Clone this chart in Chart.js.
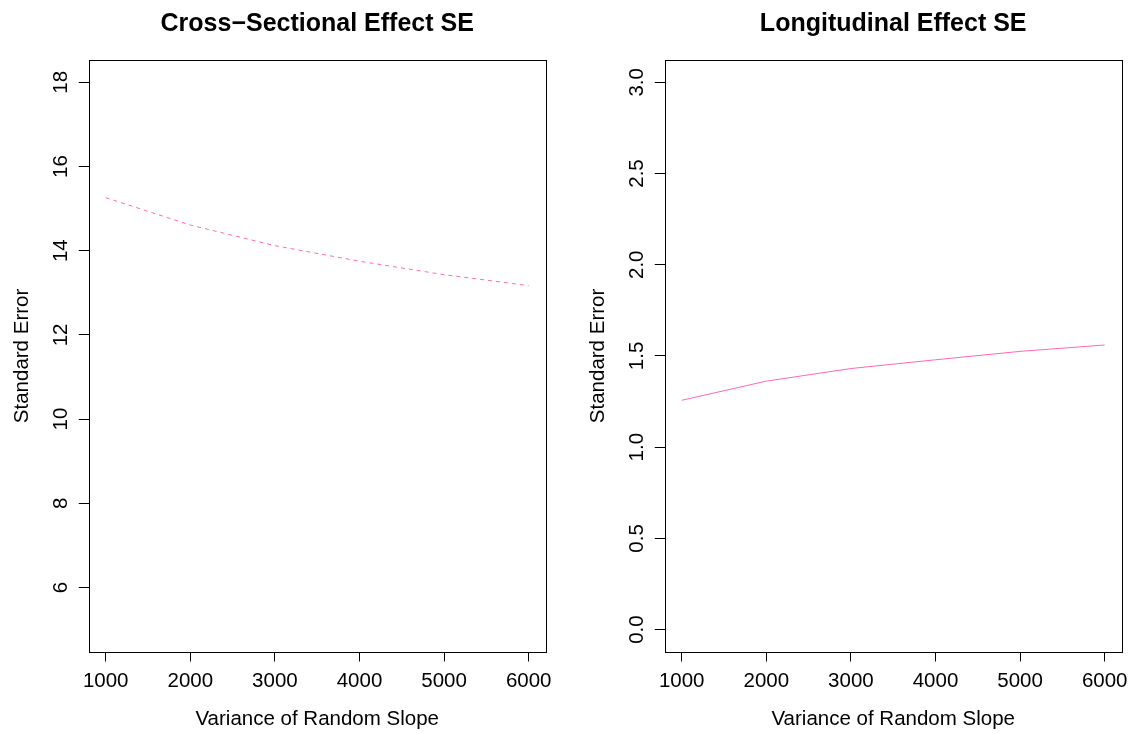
<!DOCTYPE html>
<html>
<head>
<meta charset="utf-8">
<script src="https://cdn.jsdelivr.net/npm/chart.js@4.4.1/dist/chart.umd.min.js"></script>
<style>
  html, body { margin: 0; padding: 0; background: #fff; }
  #wrap { position: relative; width: 1137px; height: 734px; background: #fff; }
  canvas { position: absolute; top: 0; }
  #left { left: 0; }
  #right { left: 568px; }
</style>
</head>
<body>
<div id="wrap">
  <canvas id="left" width="568" height="734"></canvas>
  <canvas id="right" width="569" height="734"></canvas>
</div>
<script>
// Standard errors by variance of the random slope
const slopeVariance = [1000, 2000, 3000, 4000, 5000, 6000];
const crossSectionalSE = [15.26, 14.61, 14.12, 13.75, 13.43, 13.17];
const longitudinalSE = [1.257, 1.362, 1.431, 1.479, 1.525, 1.560];

// Axis ticks and labels
const xTicks = [1000, 2000, 3000, 4000, 5000, 6000];
const crossYTicks = [6, 8, 10, 12, 14, 16, 18];
const crossYLabels = ['6', '8', '10', '12', '14', '16', '18'];
const longYTicks = [0, 0.5, 1, 1.5, 2, 2.5, 3];
const longYLabels = ['0.0', '0.5', '1.0', '1.5', '2.0', '2.5', '3.0'];
const crossYLimits = [5, 18];
const longYLimits = [0, 3];

const panelTitles = ['Cross\u2212Sectional Effect SE', 'Longitudinal Effect SE'];
const xTitle = 'Variance of Random Slope';
const yTitle = 'Standard Error';

const FAMILY = '"Liberation Sans", Arial, Helvetica, sans-serif';
const AXIS_SIZE = 20.5;
const LINE_COLOR = '#FF69B4';

// R-style axis range: limits widened by 4% on each side
function padRange(lo, hi) {
  const d = (hi - lo) * 0.04;
  return [lo - d, hi + d];
}

// Box around the plot region, rotated y labels, y title and panel title
const framePlugin = {
  id: 'frame',
  afterDraw(chart, args, opts) {
    const { ctx, chartArea: a } = chart;
    const y = chart.scales.y;
    ctx.save();
    ctx.strokeStyle = '#000';
    ctx.lineWidth = 1;
    const l = Math.round(a.left), t = Math.round(a.top);
    const r = Math.round(a.right), b = Math.round(a.bottom);
    ctx.strokeRect(l + 0.5, t + 0.5, r - l, b - t);

    ctx.fillStyle = '#000';
    ctx.font = AXIS_SIZE + 'px ' + FAMILY;
    ctx.textAlign = 'center';
    ctx.textBaseline = 'alphabetic';
    y.ticks.forEach((tick, i) => {
      const py = y.getPixelForValue(tick.value);
      ctx.save();
      ctx.translate(a.left - 22, py);
      ctx.rotate(-Math.PI / 2);
      ctx.fillText(opts.labels[i], 0, 0);
      ctx.restore();
    });

    ctx.save();
    ctx.translate(a.left - 60.5, (a.top + a.bottom) / 2);
    ctx.rotate(-Math.PI / 2);
    ctx.fillText(yTitle, 0, 0);
    ctx.restore();

    ctx.font = 'bold 25px ' + FAMILY;
    ctx.fillText(opts.title, (a.left + a.right) / 2, 31);
    ctx.restore();
  }
};

function makePanel(id, values, yTicks, yLabels, yLimits, title, dash, leftWidth, rightPad) {
  const xr = padRange(slopeVariance[0], slopeVariance[slopeVariance.length - 1]);
  const yr = padRange(yLimits[0], yLimits[1]);
  const tickGrid = { drawOnChartArea: false, drawTicks: true, tickLength: 10, color: '#000', lineWidth: 1 };
  return new Chart(document.getElementById(id), {
    type: 'line',
    data: {
      datasets: [{
        data: slopeVariance.map((x, i) => ({ x: x, y: values[i] })),
        borderColor: LINE_COLOR,
        borderWidth: 1,
        borderDash: dash,
        pointRadius: 0,
        tension: 0,
        fill: false
      }]
    },
    options: {
      responsive: false,
      animation: false,
      devicePixelRatio: 1,
      layout: { padding: { top: 60.4, right: rightPad, left: 0, bottom: 0 } },
      plugins: {
        legend: { display: false },
        tooltip: { enabled: false },
        frame: { labels: yLabels, title: title }
      },
      scales: {
        x: {
          type: 'linear',
          min: xr[0],
          max: xr[1],
          afterBuildTicks: s => { s.ticks = xTicks.map(v => ({ value: v })); },
          afterFit: s => { s.height = 734 - 651.5; },
          grid: tickGrid,
          border: { display: false },
          ticks: {
            color: '#000',
            font: { family: FAMILY, size: AXIS_SIZE },
            padding: 7.5,
            maxRotation: 0,
            autoSkip: false,
            callback: v => String(v)
          },
          title: {
            display: true,
            text: xTitle,
            color: '#000',
            font: { family: FAMILY, size: AXIS_SIZE },
            padding: { top: 0, bottom: 2 }
          }
        },
        y: {
          type: 'linear',
          min: yr[0],
          max: yr[1],
          afterBuildTicks: s => { s.ticks = yTicks.map(v => ({ value: v })); },
          afterFit: s => { s.width = leftWidth; },
          grid: tickGrid,
          border: { display: false },
          ticks: { display: false }
        }
      }
    },
    plugins: [framePlugin]
  });
}

makePanel('left', crossSectionalSE, crossYTicks, crossYLabels, crossYLimits, panelTitles[0], [4, 4], 88.8, 22.4);
makePanel('right', longitudinalSE, longYTicks, longYLabels, longYLimits, panelTitles[1], [], 96.8, 15.4);
</script>
</body>
</html>
